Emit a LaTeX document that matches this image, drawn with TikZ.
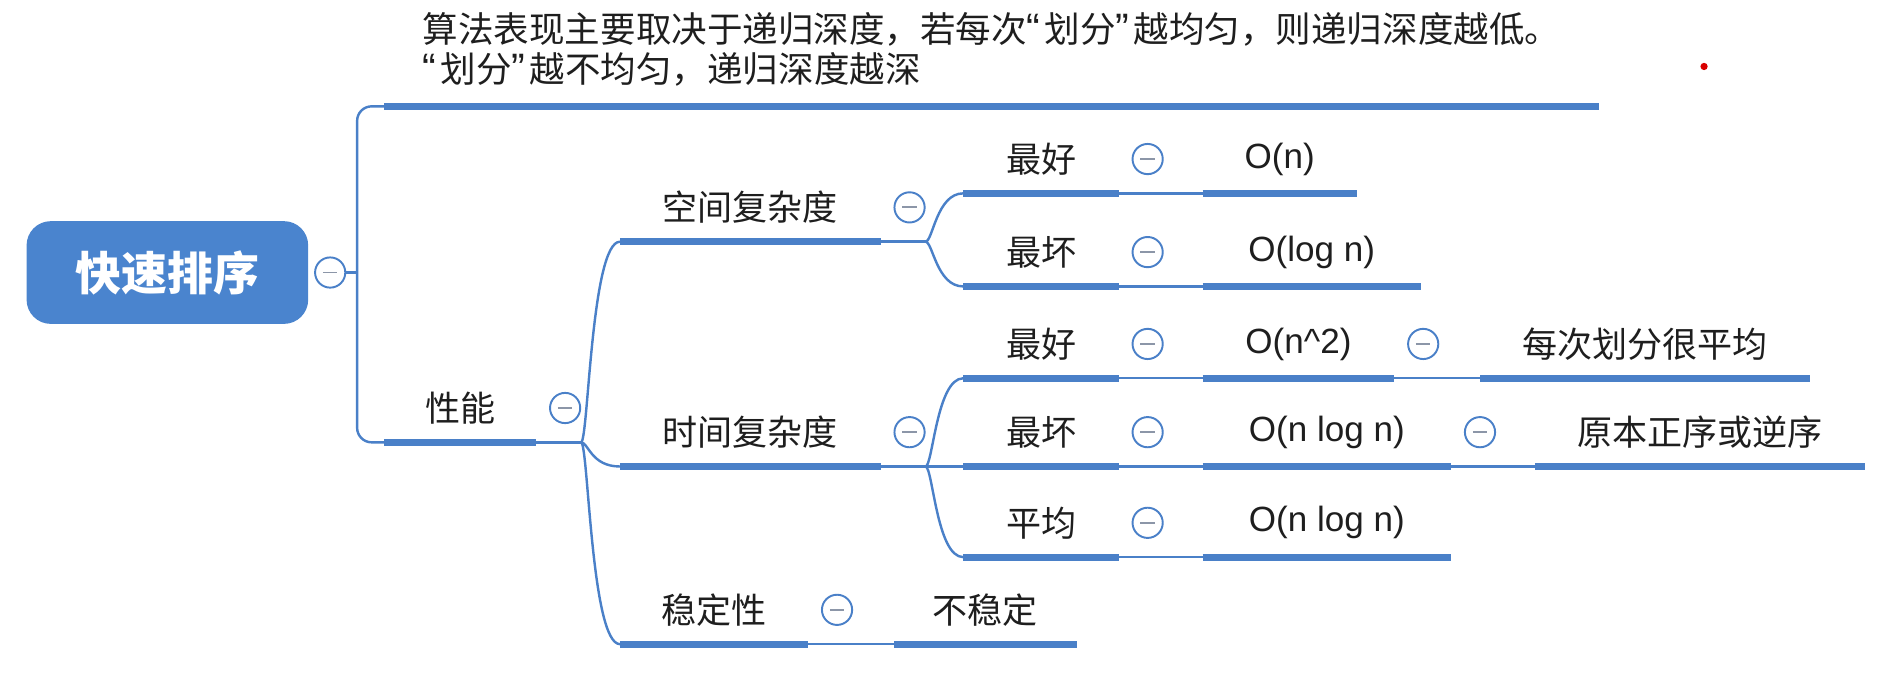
\documentclass[tikz,border=0pt]{standalone}
\usepackage{fontspec}
\setmainfont{Noto Sans CJK SC}
\newfontfamily\latinfont{Liberation Sans}
\usetikzlibrary{positioning}
\definecolor{mapblue}{HTML}{4A80C8}
\definecolor{rootblue}{HTML}{4A84CE}
\definecolor{mapgray}{HTML}{8C96A8}
\definecolor{maptext}{HTML}{1E1E1E}
\newcommand{\foldbar}{\textcolor{mapgray}{\rule[-0.4pt]{6pt}{0.8pt}}}
\newcommand{\qopen}{{\latinfont\fontsize{17pt}{16.5pt}\selectfont“}\hspace{0.12em}}
\newcommand{\qclose}{{\latinfont\fontsize{17pt}{16.5pt}\selectfont”}\hspace{0.12em}}

\begin{document}
\begin{tikzpicture}[x=0.5pt,y=-0.5pt,draw=mapblue]
\tikzstyle{topic}=[inner sep=0pt,anchor=south west,minimum height=28pt,text=maptext,font=\fontsize{14.5pt}{16.5pt}\selectfont]
\tikzstyle{root}=[rounded corners=10pt,fill=rootblue,text=white,minimum width=116.5pt,minimum height=42.5pt,font=\fontsize{19pt}{22pt}\selectfont\bfseries]
\tikzstyle{fold}=[circle,draw=mapblue,line width=0.8pt,fill=white,inner sep=0pt,minimum size=12.5pt]
\tikzstyle{bar}=[mapblue,line width=3pt]
\tikzstyle{link}=[mapblue,line width=1pt]
\useasboundingbox (0,0) rectangle (1568,561);
\node[root] (qs) at (138.5,225.5) {快速排序};
\node[fold, right=2.25pt of qs] (qs-f) {\foldbar};
\node[topic,minimum width=502pt,minimum height=46.5pt,align=left,font=\fontsize{14.7pt}{16.5pt}\selectfont] (sf) at (318,88) {算法表现主要取决于递归深度，若每次\qopen 划分\qclose 越均匀，则递归深度越低。\\\qopen 划分\qclose 越不均匀，递归深度越深};
\node[topic,minimum width=62.5pt] (xn) at (318,366) {性能};
\node[topic,minimum width=107.5pt] (kj) at (513,200) {空间复杂度};
\node[topic,minimum width=107.5pt] (sj) at (513,386) {时间复杂度};
\node[topic,minimum width=77.5pt] (wd) at (513,533) {稳定性};
\node[topic,minimum width=75pt] (bwd) at (740,533) {不稳定};
\node[topic,minimum width=64pt] (kjh) at (797,160) {最好};
\node[topic,minimum width=64pt] (kjb) at (797,237) {最坏};
\node[topic,minimum width=63.5pt] (kjhv) at (995,160) {\latinfont O(n)};
\node[topic,minimum width=90pt] (kjbv) at (995,237) {\latinfont O(log n)};
\node[topic,minimum width=64pt] (sjh) at (797,313) {最好};
\node[topic,minimum width=64pt] (sjb) at (797,386) {最坏};
\node[topic,minimum width=64pt] (sjp) at (797,461) {平均};
\node[topic,minimum width=79pt] (sjhv) at (995,313) {\latinfont O(n\textasciicircum 2)};
\node[topic,minimum width=102.5pt] (sjbv) at (995,386) {\latinfont O(n log n)};
\node[topic,minimum width=102.5pt] (sjpv) at (995,461) {\latinfont O(n log n)};
\node[topic,minimum width=136pt] (sjhr) at (1225,313) {每次划分很平均};
\node[topic,minimum width=136pt] (sjbr) at (1270,386) {原本正序或逆序};
\foreach \n in {sf,xn,kj,sj,wd,bwd,kjh,kjb,kjhv,kjbv,sjh,sjb,sjp,sjhv,sjbv,sjpv,sjhr,sjbr}
  \draw[bar] (\n.south west) -- (\n.south east);
\draw[link] (qs-f.east) -- ++(9,0) coordinate (qsb);
\draw[link,rounded corners=6pt] (sf.south west) -| (qsb) |- (xn.south west);
\draw[link] (xn.south east) -- ++(37,0) coordinate (xnb);
\foreach \n in {kj,sj,wd}
  \draw[link] (xnb) .. controls +(6,0) and +(-24,0) .. (\n.south west);
\draw[link] (kj.south east) -- ++(37,0) coordinate (kjn);
\foreach \n in {kjh,kjb}
  \draw[link] (kjn) .. controls +(6,0) and +(-22,0) .. (\n.south west);
\draw[link] (sj.south east) -- ++(37,0) coordinate (sjn);
\foreach \n in {sjh,sjb,sjp}
  \draw[link] (sjn) .. controls +(6,0) and +(-22,0) .. (\n.south west);
\foreach \a/\b in {wd/bwd,kjh/kjhv,kjb/kjbv,sjh/sjhv,sjb/sjbv,sjp/sjpv,sjhv/sjhr,sjbv/sjbr}
  \draw[link] (\a.south east) -- (\b.south west);
\foreach \n in {xn,kj,sj,wd,kjh,kjb,sjh,sjb,sjp,sjhv,sjbv}
  \node[fold, right=5.25pt of \n] (\n-f) {\foldbar};
\fill[red!85!black] (1410,55) circle (1.5pt);
\end{tikzpicture}
\end{document}
